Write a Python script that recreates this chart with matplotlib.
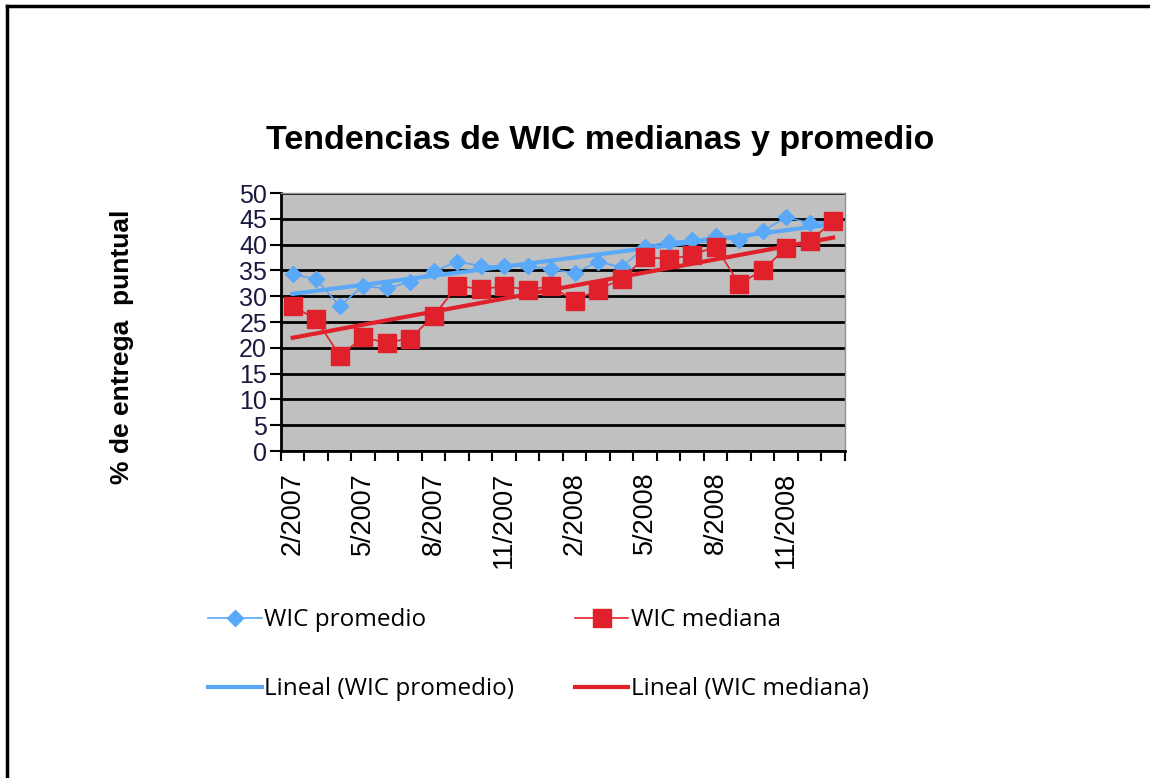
import matplotlib.pyplot as plt
import numpy as np
from matplotlib.lines import Line2D

# Meses (2/2007 - 1/2009)
meses = ['2/2007', '3/2007', '4/2007', '5/2007', '6/2007', '7/2007', '8/2007', '9/2007',
         '10/2007', '11/2007', '12/2007', '1/2008', '2/2008', '3/2008', '4/2008', '5/2008',
         '6/2008', '7/2008', '8/2008', '9/2008', '10/2008', '11/2008', '12/2008', '1/2009']

wic_promedio = [34.3, 33.3, 28.1, 32.0, 31.5, 32.8, 34.8, 36.7, 35.9, 35.8, 35.9, 35.2,
                34.5, 36.7, 35.6, 39.6, 40.6, 40.8, 41.6, 40.8, 42.6, 45.3, 44.2, 44.5]
wic_mediana = [28.1, 25.5, 18.5, 22.0, 21.0, 21.8, 26.2, 32.0, 31.4, 31.9, 31.3, 31.9,
               29.1, 31.3, 33.3, 37.6, 37.2, 38.0, 39.6, 32.4, 35.0, 39.4, 40.7, 44.5]

azul = '#5aa8f8'
rojo = '#e0202a'

fig = plt.figure(figsize=(11.5, 7.78), dpi=100)
ax = fig.add_axes([0.2443, 0.4203, 0.4904, 0.3316])

x = np.arange(len(meses))

# lineas de tendencia (ajuste lineal)
a1, b1 = np.polyfit(x, wic_promedio, 1)
a2, b2 = np.polyfit(x, wic_mediana, 1)

ax.plot(x, wic_promedio, color=azul, lw=1.2, marker='D', ms=8, mec=azul, zorder=3)
ax.plot(x, wic_mediana, color=rojo, lw=1.2, marker='s', ms=13, mec=rojo, zorder=4)
ax.plot(x, a1 * x + b1, color=azul, lw=3, zorder=3.5)
ax.plot(x, a2 * x + b2, color=rojo, lw=3, zorder=4.5)

ax.set_facecolor('#c0c0c0')
ax.set_xlim(-0.5, len(meses) - 0.5)
ax.set_ylim(0, 50)
ax.set_yticks(range(0, 51, 5))
ax.yaxis.grid(True, color='black', lw=2)
ax.set_axisbelow(True)

ax.set_xticks(np.arange(-0.5, len(meses), 1), minor=True)
ax.set_xticks(x[::3])
ax.set_xticklabels(meses[::3], rotation=90, fontsize=19.5, family='Liberation Sans')
ax.tick_params(axis='x', which='major', length=0, pad=15)
ax.tick_params(axis='x', which='minor', length=7, width=1.5, direction='out', color='black')
ax.tick_params(axis='y', length=8, width=1.5, direction='out', pad=2)
for lab in ax.get_yticklabels():
    lab.set_fontsize(18)
    lab.set_family('Liberation Sans')
    lab.set_color('#1a1a40')

for s in ['top', 'right']:
    ax.spines[s].set_color('#909090')
    ax.spines[s].set_linewidth(1)
for s in ['left', 'bottom']:
    ax.spines[s].set_color('black')
    ax.spines[s].set_linewidth(2)

ax.set_ylabel('% de entrega  puntual', fontsize=19, fontweight='bold',
              family='Liberation Sans')
ax.yaxis.set_label_coords(-0.26, 0.405)

fig.text(0.522, 0.82, 'Tendencias de WIC medianas y promedio', ha='center', va='center',
         fontsize=24.5, fontweight='bold', family='Liberation Sans')

handles = [Line2D([], [], color=azul, lw=1.2, marker='D', ms=8),
           Line2D([], [], color=azul, lw=3),
           Line2D([], [], color=rojo, lw=1.2, marker='s', ms=13),
           Line2D([], [], color=rojo, lw=3)]
labels = ['WIC promedio', 'Lineal (WIC promedio)', 'WIC mediana', 'Lineal (WIC mediana)']
fig.legend(handles, labels, ncol=2, loc='upper left', bbox_to_anchor=(0.181, 0.218),
           frameon=False, prop={'family': 'Open Sans', 'size': 17.5},
           handlelength=2.2, handletextpad=0.1, columnspacing=2.5, labelspacing=1.85,
           borderpad=0, borderaxespad=0)

# borde de la hoja
fig.add_artist(Line2D([0.006, 0.006], [0, 0.992], color='black', lw=2.5,
                      transform=fig.transFigure))
fig.add_artist(Line2D([0.006, 1], [0.992, 0.992], color='black', lw=2.5,
                      transform=fig.transFigure))

plt.savefig('out.png', dpi=100)
